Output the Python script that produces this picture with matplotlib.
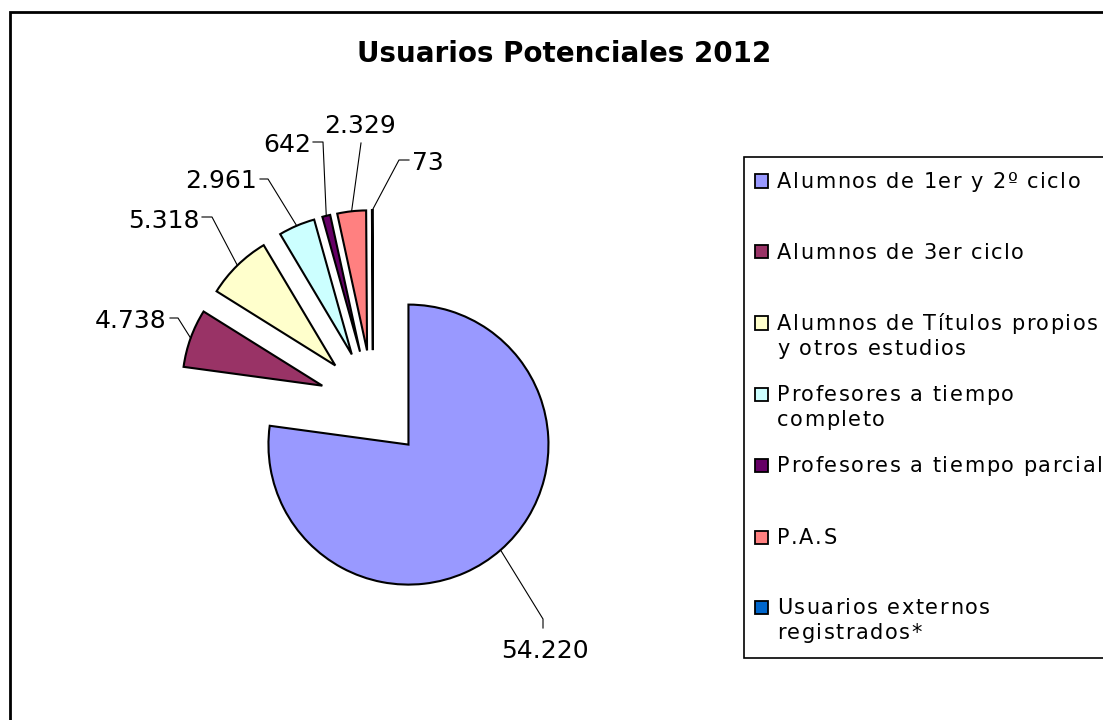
import numpy as np
import matplotlib.pyplot as plt
from matplotlib import font_manager, ft2font
from matplotlib.patches import Rectangle

# Data
categories = [
    "Alumnos de 1er y 2º ciclo",
    "Alumnos de 3er ciclo",
    "Alumnos de Títulos propios\ny otros estudios",
    "Profesores a tiempo\ncompleto",
    "Profesores a tiempo parcial",
    "P.A.S",
    "Usuarios externos\nregistrados*",
]
values = [54220, 4738, 5318, 2961, 642, 2329, 73]
colors = ["#9999FF", "#993366", "#FFFFCC", "#CCFFFF", "#660066", "#FF8080", "#0066CC"]

# Spanish thousands separator
value_labels = [f"{v:,}".replace(",", ".") for v in values]

W, H = 1103, 720
R = 140             # pie radius in pixels
cx, cy = 373, 404   # pie centre in pixels (from top-left)
EXPLODE = 0.385


def px(x, y):
    """pixel position (top-left origin) -> data units around the pie centre"""
    return (x - cx) / R, (cy - y) / R


def fig_px(x, y):
    return x / W, 1 - y / H


fig = plt.figure(figsize=(W / 100, H / 100), dpi=100)
fig.patch.set_facecolor("white")
ax = fig.add_axes([0, 0, 1, 1])

wedges, _ = ax.pie(values, colors=colors, startangle=90, counterclock=False,
                   explode=[EXPLODE] * len(values), radius=1,
                   wedgeprops=dict(edgecolor="black", linewidth=1.5))
ax.set_xlim(-cx / R, (W - cx) / R)
ax.set_ylim(-(H - cy) / R, cy / R)
ax.axis("off")

# Leader lines: slice edge -> elbow -> end, then the value text
elbows = [(543, 619), (178, 318), (212, 217), (268, 179), (323, 142), (361, 143), (399, 160)]
ends = [(543, 628), (170, 318), (202, 217), (260, 179), (313, 142), (361, 143), (409, 160)]
text_pos = [(545, 658, "center"), (167, 328, "right"), (200, 228, "right"),
            (257, 188, "right"), (311, 152, "right"), (360, 133, "center"),
            (412, 170, "left")]

for w, lab, el, en, tp in zip(wedges, value_labels, elbows, ends, text_pos):
    mid = np.deg2rad((w.theta1 + w.theta2) / 2)
    ax0 = (1 + EXPLODE) * np.cos(mid)
    ay0 = (1 + EXPLODE) * np.sin(mid)
    ex, ey = px(*el)
    fx, fy = px(*en)
    ax.plot([ax0, ex, fx], [ay0, ey, fy], color="black", lw=0.8)
    tx, ty = px(tp[0], tp[1])
    ax.text(tx, ty, lab, ha=tp[2], va="baseline", fontsize=18, color="black")

# Title
fig.text(*fig_px(564, 62), "Usuarios Potenciales 2012", ha="center", va="baseline",
         fontsize=20, fontweight="bold")

# Legend box
lx, ly = fig_px(744, 658)
fig.add_artist(Rectangle((lx, ly), 0.5, (658 - 157) / H, transform=fig.transFigure,
                         facecolor="white", edgecolor="black", lw=1.2, zorder=1))

# legend text is slightly letter-spaced, so lay it out one glyph at a time
LEG_SIZE = 15
leg_prop = font_manager.FontProperties(family="DejaVu Sans", size=LEG_SIZE)
leg_font = ft2font.FT2Font(font_manager.findfont(leg_prop))
leg_font.set_size(LEG_SIZE, 100)
TRACK = 1.5


def spaced_text(x, y, s):
    for ch in s:
        if ch != " ":
            fig.text(*fig_px(x, y), ch, fontproperties=leg_prop, ha="left",
                     va="baseline", zorder=3)
        x += leg_font.load_char(ord(ch)).linearHoriAdvance / 65536 + TRACK


entry_y = [181, 252, 323, 394, 465, 537, 607]
for name, col, yc in zip(categories, colors, entry_y):
    sx, sy = fig_px(755, yc + 6.5)
    fig.add_artist(Rectangle((sx, sy), 13 / W, 13 / H, transform=fig.transFigure,
                             facecolor=col, edgecolor="black", lw=1.3, zorder=3))
    for i, line in enumerate(name.split("\n")):
        spaced_text(777, yc + 7 + 25 * i, line)

# Outer chart frame
fx0, fy0 = fig_px(10, 760)
fig.add_artist(Rectangle((fx0, fy0), 1.2, (760 - 12) / H, transform=fig.transFigure,
                         facecolor="none", edgecolor="black", lw=2, zorder=4))

fig.savefig("out.png", dpi=100)
